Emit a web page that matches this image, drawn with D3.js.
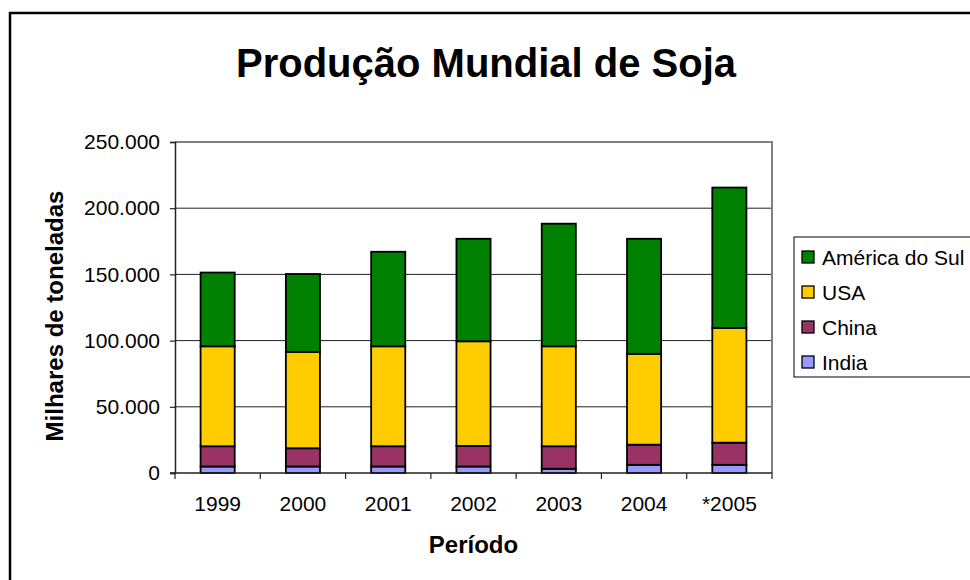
<!DOCTYPE html>
<html lang="pt">
<head>
<meta charset="utf-8">
<title>Produção Mundial de Soja</title>
<script src="https://cdn.jsdelivr.net/npm/d3@7"></script>
<style>
    html, body { margin: 0; padding: 0; background: #fff; }
    #chart-container { width: 970px; height: 580px; overflow: hidden; }
    text { font-family: Arial, "Liberation Sans", sans-serif; fill: #000; }
</style>
</head>
<body>
<div id="chart-container"></div>
<script>
// --- DATA (milhares de toneladas) ---
const periods = ['1999', '2000', '2001', '2002', '2003', '2004', '*2005'];
const seriesNames = ['India', 'China', 'USA', 'América do Sul'];
const india = [4900, 4900, 4900, 4900, 3200, 6200, 6200];
const china = [15300, 13800, 15300, 15500, 17000, 15200, 16700];
const usa = [75500, 72800, 75500, 79100, 75500, 68600, 86600];
const americaDoSul = [55700, 58800, 71400, 77400, 92600, 86900, 106100];
const yTicks = [0, 50000, 100000, 150000, 200000, 250000];

document.addEventListener('DOMContentLoaded', () => {
    // --- 1. CONFIGURATION ---
    const width = 970;
    const height = 580;
    const plot = { left: 175, right: 772, top: 142, bottom: 473 };
    const colors = {
        'India': '#9999FF',
        'China': '#993366',
        'USA': '#FFCC00',
        'América do Sul': '#008000'
    };
    const fmt = v => d3.format(',')(v).replace(/,/g, '.');

    const svg = d3.select('#chart-container').append('svg')
        .attr('width', width)
        .attr('height', height);

    // outer chart frame (runs off the right and bottom edges)
    svg.append('rect')
        .attr('x', 10).attr('y', 13)
        .attr('width', 1000).attr('height', 600)
        .attr('fill', '#fff')
        .attr('stroke', '#000')
        .attr('stroke-width', 2.5);

    // --- 2. DATA TABLE + STACK ---
    const table = periods.map((p, i) => ({
        period: p,
        'India': india[i],
        'China': china[i],
        'USA': usa[i],
        'América do Sul': americaDoSul[i]
    }));
    const stacked = d3.stack().keys(seriesNames)(table);

    // --- 3. SCALES ---
    const x = d3.scaleBand()
        .domain(periods)
        .range([plot.left, plot.right])
        .paddingInner(0.6)
        .paddingOuter(0.3);
    const step = x.step();

    const y = d3.scaleLinear()
        .domain([0, 250000])
        .range([plot.bottom, plot.top]);

    // --- 4. GRID + PLOT BORDER ---
    svg.append('g')
        .selectAll('line')
        .data(yTicks.filter(t => t > 0 && t < 250000))
        .join('line')
        .attr('x1', plot.left).attr('x2', plot.right)
        .attr('y1', d => y(d)).attr('y2', d => y(d))
        .attr('stroke', '#222')
        .attr('stroke-width', 1);

    svg.append('path')
        .attr('d', `M${plot.left},${plot.top}H${plot.right}V${plot.bottom}`)
        .attr('fill', 'none')
        .attr('stroke', '#808080')
        .attr('stroke-width', 2);

    // --- 5. BARS ---
    svg.append('g')
        .selectAll('g')
        .data(stacked)
        .join('g')
        .attr('fill', d => colors[d.key])
        .selectAll('rect')
        .data(d => d)
        .join('rect')
        .attr('x', d => x(d.data.period))
        .attr('width', x.bandwidth())
        .attr('y', d => y(d[1]))
        .attr('height', d => y(d[0]) - y(d[1]))
        .attr('stroke', '#000')
        .attr('stroke-width', 1.8);

    // --- 6. AXES ---
    const yAxis = svg.append('g')
        .attr('transform', `translate(${plot.left},0)`)
        .call(d3.axisLeft(y).tickValues(yTicks).tickFormat(fmt).tickSize(5).tickPadding(10));
    yAxis.select('.domain').attr('stroke', '#222').attr('stroke-width', 1.5);
    yAxis.selectAll('.tick line').attr('stroke', '#222').attr('stroke-width', 1.2);
    yAxis.selectAll('text')
        .style('font-size', '21px')
        .style('font-family', 'Arial, "Liberation Sans", sans-serif')
        .attr('fill', '#000');

    const xAxis = svg.append('g')
        .attr('transform', `translate(0,${plot.bottom})`)
        .call(d3.axisBottom(x).tickSize(0).tickPadding(23));
    xAxis.select('.domain').remove();
    xAxis.selectAll('text')
        .style('font-size', '21px')
        .style('font-family', 'Arial, "Liberation Sans", sans-serif')
        .attr('fill', '#000');

    // category separator ticks on the bottom axis
    const bounds = periods.map(p => x(p) - x.paddingOuter() * step).concat([plot.right]);
    svg.append('g')
        .selectAll('line')
        .data(bounds)
        .join('line')
        .attr('x1', d => d).attr('x2', d => d)
        .attr('y1', plot.bottom).attr('y2', plot.bottom + 6)
        .attr('stroke', '#222')
        .attr('stroke-width', 1.2);
    svg.append('line')
        .attr('x1', plot.left - 5).attr('x2', plot.right)
        .attr('y1', plot.bottom).attr('y2', plot.bottom)
        .attr('stroke', '#222')
        .attr('stroke-width', 1.5);

    // --- 7. TITLES ---
    svg.append('text')
        .attr('x', 486).attr('y', 77)
        .attr('text-anchor', 'middle')
        .style('font-size', '40px')
        .style('font-weight', 'bold')
        .text('Produção Mundial de Soja');

    svg.append('text')
        .attr('transform', `translate(63,316) rotate(-90)`)
        .attr('text-anchor', 'middle')
        .style('font-size', '24px')
        .style('font-weight', 'bold')
        .text('Milhares de toneladas');

    svg.append('text')
        .attr('x', (plot.left + plot.right) / 2).attr('y', 553)
        .attr('text-anchor', 'middle')
        .style('font-size', '24px')
        .style('font-weight', 'bold')
        .text('Período');

    // --- 8. LEGEND ---
    const legend = svg.append('g').attr('transform', 'translate(794,237)');
    legend.append('rect')
        .attr('width', 220).attr('height', 140)
        .attr('fill', '#fff')
        .attr('stroke', '#000')
        .attr('stroke-width', 1);

    const item = legend.selectAll('g.item')
        .data(seriesNames.slice().reverse())
        .join('g')
        .attr('class', 'item')
        .attr('transform', (d, i) => `translate(8,${14 + i * 35})`);
    item.append('rect')
        .attr('width', 12).attr('height', 12)
        .attr('fill', d => colors[d])
        .attr('stroke', '#000')
        .attr('stroke-width', 1.3);
    item.append('text')
        .attr('x', 20).attr('y', 6)
        .attr('dy', '0.36em')
        .style('font-size', '21px')
        .text(d => d);
});
</script>
</body>
</html>
